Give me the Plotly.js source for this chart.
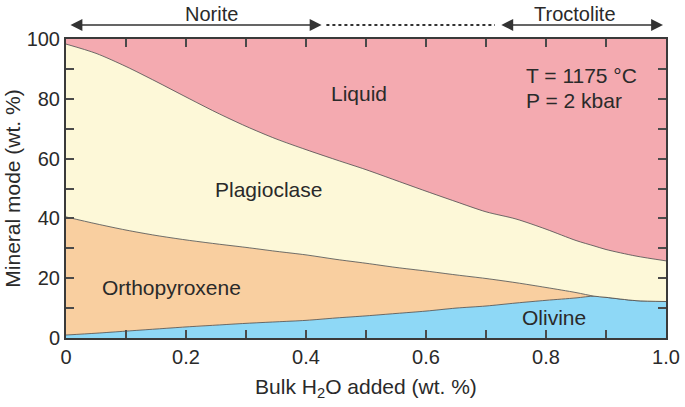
<!DOCTYPE html>
<html>
<head>
<meta charset="utf-8">
<script src="https://cdn.plot.ly/plotly-3.0.1.min.js"></script>
<style>
  html, body { margin: 0; padding: 0; background: #fff; }
  #chart { width: 685px; height: 407px; }
</style>
</head>
<body>
<div id="chart"></div>
<script>
// bulk H2O added (wt. %)
const water = [0, 0.05, 0.1, 0.15, 0.2, 0.25, 0.3, 0.35, 0.4, 0.45, 0.5,
               0.55, 0.6, 0.65, 0.7, 0.75, 0.8, 0.85, 0.88, 0.9, 0.95, 1.0];

// cumulative mineral mode (wt. %), top edge of each band
const olivineTop = [1.0, 1.6, 2.3, 3.0, 3.7, 4.3, 4.9, 5.4, 5.9, 6.7, 7.4,
                    8.2, 9.0, 10.0, 10.7, 11.7, 12.6, 13.4, 14.0, 13.6, 12.5, 12.2];
const opxTop = [40.5, 38.2, 36.1, 34.3, 32.8, 31.5, 30.3, 29.0, 27.8, 26.3, 25.0,
                23.6, 22.4, 21.1, 19.9, 18.5, 16.9, 15.2, 14.0, 13.6, 12.5, 12.2];
const plagTop = [98.3, 95.2, 90.8, 85.8, 80.6, 75.5, 70.8, 66.6, 63.0, 59.6, 56.3,
                 52.7, 49.1, 45.6, 42.2, 39.8, 36.4, 32.6, 30.8, 29.6, 27.4, 25.8];
const liquidTop = [100, 100, 100, 100, 100, 100, 100, 100, 100, 100, 100,
                   100, 100, 100, 100, 100, 100, 100, 100, 100, 100, 100];

const xTicks = [0, 0.1, 0.2, 0.3, 0.4, 0.5, 0.6, 0.7, 0.8, 0.9, 1.0];
const xTickText = ['0', '', '0.2', '', '0.4', '', '0.6', '', '0.8', '', '1.0'];
const yTicks = [0, 10, 20, 30, 40, 50, 60, 70, 80, 90, 100];
const yTickText = ['0', '', '20', '', '40', '', '60', '', '80', '', '100'];

const edge = '#4a4a4a';
const ink = '#2a2a2a';
const font = 'Liberation Sans, Arial, sans-serif';

function band(y, fill, fillcolor, lineWidth) {
    return {
        x: water, y: y, type: 'scatter', mode: 'lines',
        fill: fill, fillcolor: fillcolor,
        line: { color: edge, width: lineWidth, shape: 'spline', smoothing: 0.8 },
        hoverinfo: 'skip'
    };
}

const traces = [
    band(olivineTop, 'tozeroy', '#8ed8f6', 0.8),
    band(opxTop, 'tonexty', '#f9cfa0', 0.8),
    band(plagTop, 'tonexty', '#fdf8d8', 0.8),
    band(liquidTop, 'tonexty', '#f4aab0', 0)
];

const label = (x, y, text, extra) => Object.assign({
    x: x, y: y, xref: 'x', yref: 'y', text: text, showarrow: false,
    font: { family: font, size: 21, color: ink }
}, extra || {});

const arrow = (x0, x1) => ({
    x: x1, y: 1.047, xref: 'x', yref: 'paper',
    ax: x0, ay: 0, axref: 'x', ayref: 'pixel',
    text: '', showarrow: true, arrowside: 'end+start',
    arrowhead: 2, arrowsize: 1.7, arrowwidth: 1.4, arrowcolor: '#333'
});

const topLabel = (x, text) => ({
    x: x, y: 1.085, xref: 'x', yref: 'paper', yanchor: 'middle',
    text: text, showarrow: false, borderpad: 0,
    font: { family: font, size: 20, color: ink }
});

const layout = {
    width: 685, height: 407,
    margin: { t: 39, r: 19, b: 69, l: 66 },
    paper_bgcolor: '#fff', plot_bgcolor: '#fff',
    showlegend: false,
    xaxis: {
        range: [0, 1], tickvals: xTicks, ticktext: xTickText,
        ticks: 'inside', ticklen: 8, tickwidth: 2, tickcolor: edge,
        showline: true, linewidth: 2, linecolor: '#3a3a3a', mirror: 'ticks',
        showgrid: false, zeroline: false,
        tickfont: { family: font, size: 20, color: ink },
        title: { text: 'Bulk H<sub>2</sub>O added (wt. %)', standoff: 12,
                 font: { family: font, size: 21, color: ink } }
    },
    yaxis: {
        range: [0, 100], tickvals: yTicks, ticktext: yTickText,
        ticks: 'inside', ticklen: 8, tickwidth: 2, tickcolor: edge,
        showline: true, linewidth: 2, linecolor: '#3a3a3a', mirror: 'ticks',
        showgrid: false, zeroline: false,
        tickfont: { family: font, size: 20, color: ink },
        title: { text: 'Mineral mode (wt. %)', standoff: 0,
                 font: { family: font, size: 21, color: ink } }
    },
    shapes: [{
        type: 'line', xref: 'x', yref: 'paper',
        x0: 0.434, x1: 0.715, y0: 1.047, y1: 1.047,
        line: { color: '#333', width: 2, dash: 'dot' }
    }],
    annotations: [
        label(0.488, 81.7, 'Liquid'),
        label(0.3375, 49.7, 'Plagioclase'),
        label(0.175, 16.9, 'Orthopyroxene'),
        label(0.814, 6.9, 'Olivine'),
        label(0.763, 87.7, 'T = 1175 °C', { xanchor: 'left' }),
        label(0.763, 79.4, 'P = 2 kbar', { xanchor: 'left' }),
        arrow(0.005, 0.426),
        arrow(0.723, 0.995),
        topLabel(0.243, 'Norite'),
        topLabel(0.848, 'Troctolite')
    ]
};

Plotly.newPlot('chart', traces, layout, { displayModeBar: false, staticPlot: true });
</script>
</body>
</html>
